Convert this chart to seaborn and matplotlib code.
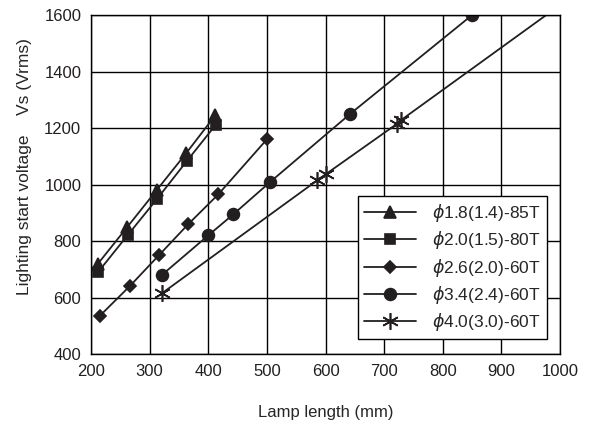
import numpy as np
import pandas as pd
import seaborn as sns
import matplotlib.pyplot as plt

sns.set_style("white")
plt.rcParams['font.family'] = ['Liberation Sans', 'DejaVu Sans']
plt.rcParams['mathtext.fontset'] = 'dejavusans'

# Data
labels = ["1.8(1.4)-85T", "2.0(1.5)-80T", "2.6(2.0)-60T", "3.4(2.4)-60T", "4.0(3.0)-60T"]

x_tri = [212, 262, 312, 362, 412]
y_tri = [720, 850, 980, 1110, 1245]

x_sq = [212, 263, 313, 363, 413]
y_sq = [690, 822, 950, 1082, 1212]

x_dia = [215, 266, 316, 366, 417, 500]
y_dia = [535, 640, 750, 860, 965, 1160]

x_cir = [321, 400, 443, 505, 642, 850]
y_cir = [680, 820, 895, 1008, 1250, 1600]

x_star = [321, 586, 600, 722, 728]
y_star = [615, 1015, 1036, 1215, 1228]

series = [
    (x_tri, y_tri, "^", 8),
    (x_sq, y_sq, "s", 7.5),
    (x_dia, y_dia, "D", 6.5),
    (x_cir, y_cir, "o", 8.5),
    (x_star, y_star, (6, 2, 0), 12),
]

col = "#231f20"

fig = plt.figure(figsize=(5.92, 4.24), dpi=100)
ax = fig.add_axes([0.1537, 0.165, 0.7923, 0.7995])

for (xs, ys, mk, ms), lab in zip(series, labels):
    df = pd.DataFrame({"x": xs, "y": ys})
    sns.lineplot(data=df, x="x", y="y", ax=ax, color=col, marker=mk,
                 markersize=ms, markeredgecolor=col, markeredgewidth=1.2,
                 linewidth=1.3, sort=False, label=r"$\phi$" + lab)

# the 4.0 line is drawn on past its last point, along its straight-line fit
k, b = np.polyfit(x_star, y_star, 1)
x_end = (1600 - b) / k
ax.plot([x_star[-1], x_end], [k * x_star[-1] + b, 1600], color=col, linewidth=1.3)

ax.set_xlim(200, 1000)
ax.set_ylim(400, 1600)
ax.set_xticks(range(200, 1001, 100))
ax.set_yticks(range(400, 1601, 200))
ax.grid(True, color="black", linewidth=1.0)
ax.set_axisbelow(True)
for s in ax.spines.values():
    s.set_color("black")
    s.set_linewidth(1.0)
ax.tick_params(length=0, labelsize=12, pad=7, colors="#231f20")

ax.set_xlabel("Lamp length (mm)", fontsize=12, labelpad=19)
ax.set_ylabel("Lighting start voltage    Vs (Vrms)", fontsize=12.5)
ax.yaxis.set_label_coords(-0.126, 0.552)

leg = ax.legend(loc="lower right", bbox_to_anchor=(0.972, 0.044), fontsize=12.5,
                frameon=True, fancybox=False, edgecolor="black",
                handlelength=3.0, labelspacing=0.3, borderpad=0.35,
                handletextpad=0.9, borderaxespad=0)
leg.get_frame().set_linewidth(1.0)
leg.get_frame().set_alpha(1)

plt.savefig("out.png", dpi=100)
plt.close()
